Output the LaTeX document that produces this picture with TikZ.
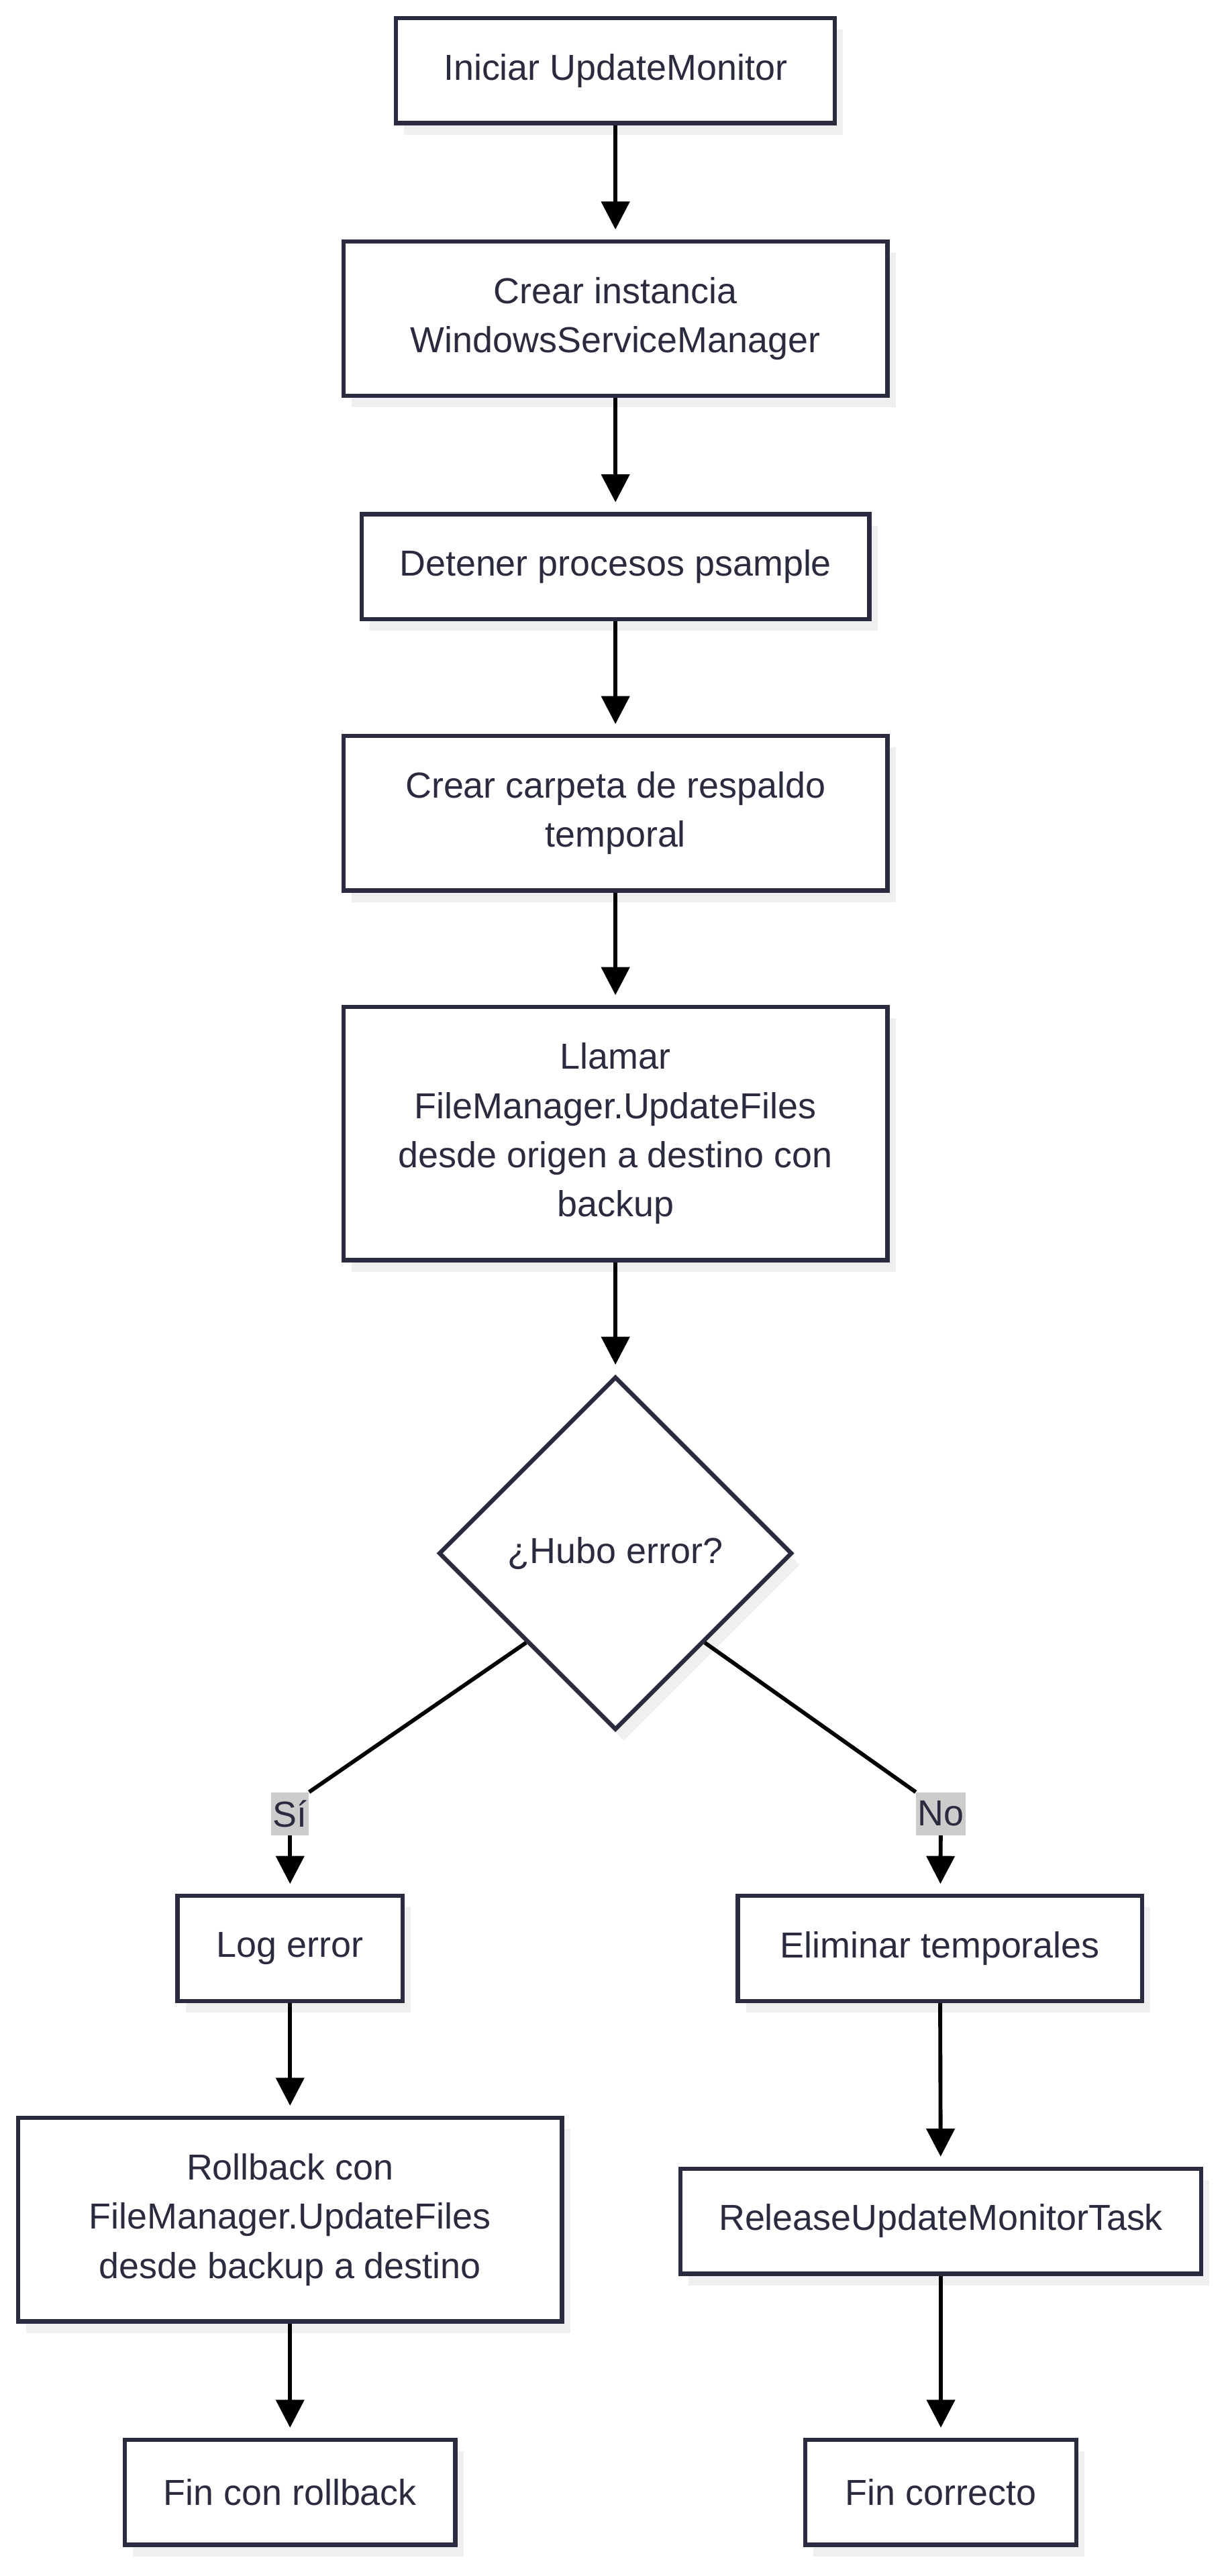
\documentclass[tikz,border=0pt]{standalone}
\usepackage{fontspec}
\setmainfont{Liberation Sans}
\usepackage{tikz}
\usetikzlibrary{shapes,arrows.meta,shadows}

\definecolor{boxline}{HTML}{2B2B40}
\definecolor{shadowgray}{HTML}{EFEFEF}
\definecolor{labelgray}{HTML}{CCCCCC}

\tikzset{
  box/.style={draw=boxline,line width=2.6pt,fill=white,text=boxline,inner sep=0pt,
    align=center,font=\fontsize{22}{30}\selectfont,
    drop shadow={shadow xshift=5pt,shadow yshift=-7pt,fill=shadowgray,opacity=1}},
  arrow/.style={-{Triangle[width=17pt,length=17pt]},line width=2.4pt,shorten >=6pt},
  lbl/.style={fill=labelgray,text=boxline,inner sep=1pt,minimum height=26pt,font=\fontsize{22}{26}\selectfont}
}

\begin{document}
\begin{tikzpicture}[x=1pt,y=-1pt]
\useasboundingbox (0,0) rectangle (746,1568);
% Main column
\node[box,minimum width=267pt,minimum height=64pt] (inicio) at (374.5,43) {Iniciar UpdateMonitor};
\node[box,minimum width=331pt,minimum height=94pt] (crear) at (374.5,194) {Crear instancia\\WindowsServiceManager};
\node[box,minimum width=309pt,minimum height=64pt] (detener) at (374.5,345) {Detener procesos psample};
\node[box,minimum width=331pt,minimum height=94pt] (respaldo) at (374.5,495) {Crear carpeta de respaldo\\temporal};
\node[box,minimum width=331pt,minimum height=154pt] (llamar) at (374.5,690) {Llamar\\FileManager.UpdateFiles\\desde origen a destino con\\backup};
% Decision
\node[box,shape=diamond,minimum width=215pt,minimum height=215pt,aspect=1] (error) at (374.5,945.5) {¿Hubo error?};
% Left branch
\node[box,minimum width=137pt,minimum height=64pt] (logerr) at (176.5,1186) {Log error};
\node[box,minimum width=331pt,minimum height=124pt] (rollback) at (176.5,1351) {Rollback con\\FileManager.UpdateFiles\\desde backup a destino};
\node[box,minimum width=201pt,minimum height=64pt] (finrb) at (176.5,1517) {Fin con rollback};
% Right branch
\node[box,minimum width=246pt,minimum height=64pt] (eliminar) at (572,1186) {Eliminar temporales};
\node[box,minimum width=317pt,minimum height=64pt] (release) at (572.5,1352) {ReleaseUpdateMonitorTask};
\node[box,minimum width=165pt,minimum height=64pt] (finok) at (572.5,1517) {Fin correcto};
% Edge labels
\node[lbl] (si) at (176.5,1104) {Sí};
\node[lbl] (no) at (572.5,1104) {No};
% Connectors
\draw[arrow] (inicio) -- (crear);
\draw[arrow] (crear) -- (detener);
\draw[arrow] (detener) -- (respaldo);
\draw[arrow] (respaldo) -- (llamar);
\draw[arrow] (llamar) -- (error);
\draw[line width=2.4pt] (error.south west) -- (si.north east);
\draw[arrow] (si) -- (logerr);
\draw[line width=2.4pt] (error.south east) -- (no.north west);
\draw[arrow] (no) -- (eliminar);
\draw[arrow] (logerr) -- (rollback);
\draw[arrow] (rollback) -- (finrb);
\draw[arrow] (eliminar) -- (release);
\draw[arrow] (release) -- (finok);
\end{tikzpicture}
\end{document}
